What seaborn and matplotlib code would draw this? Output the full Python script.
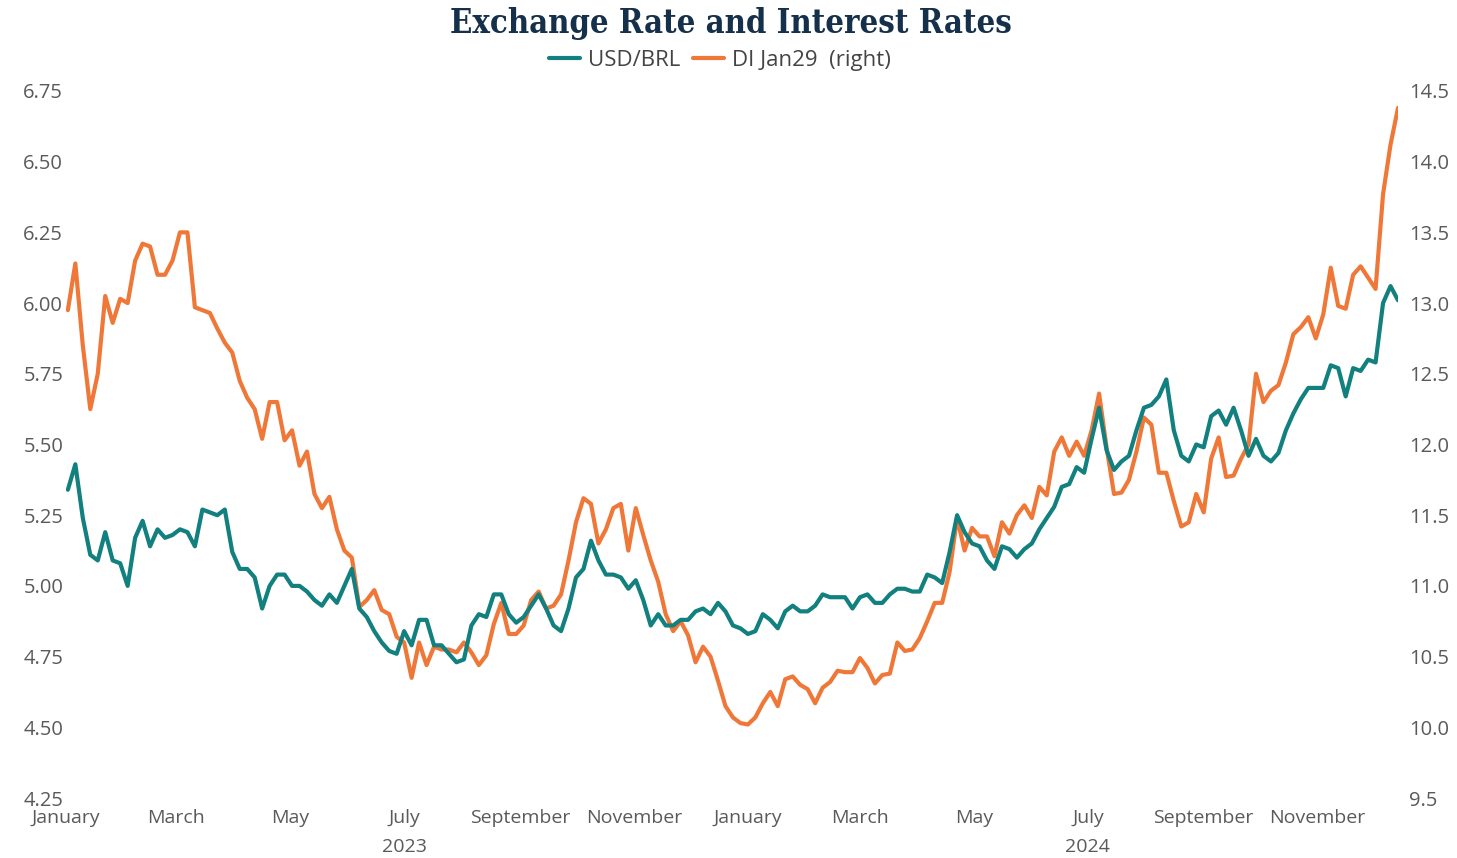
import pandas as pd
import matplotlib
matplotlib.use("Agg")
import matplotlib.pyplot as plt
import matplotlib.dates as mdates
import matplotlib.transforms as mtransforms
import seaborn as sns

# every 4 days, Jan 2023 -> Dec 2024
dates = pd.date_range("2023-01-02", periods=179, freq="4D")

usd_brl = [
    5.34, 5.43, 5.24, 5.11, 5.09, 5.19, 5.09, 5.08, 5.00, 5.17,
    5.23, 5.14, 5.20, 5.17, 5.18, 5.20, 5.19, 5.14, 5.27, 5.26,
    5.25, 5.27, 5.12, 5.06, 5.06, 5.03, 4.92, 5.00, 5.04, 5.04,
    5.00, 5.00, 4.98, 4.95, 4.93, 4.97, 4.94, 5.00, 5.06, 4.92,
    4.89, 4.84, 4.80, 4.77, 4.76, 4.84, 4.79, 4.88, 4.88, 4.79,
    4.79, 4.76, 4.73, 4.74, 4.86, 4.90, 4.89, 4.97, 4.97, 4.90,
    4.87, 4.89, 4.93, 4.97, 4.92, 4.86, 4.84, 4.92, 5.03, 5.06,
    5.16, 5.09, 5.04, 5.04, 5.03, 4.99, 5.02, 4.95, 4.86, 4.90,
    4.86, 4.86, 4.88, 4.88, 4.91, 4.92, 4.90, 4.94, 4.91, 4.86,
    4.85, 4.83, 4.84, 4.90, 4.88, 4.85, 4.91, 4.93, 4.91, 4.91,
    4.93, 4.97, 4.96, 4.96, 4.96, 4.92, 4.96, 4.97, 4.94, 4.94,
    4.97, 4.99, 4.99, 4.98, 4.98, 5.04, 5.03, 5.01, 5.12, 5.25,
    5.19, 5.15, 5.14, 5.09, 5.06, 5.14, 5.13, 5.10, 5.13, 5.15,
    5.20, 5.24, 5.28, 5.35, 5.36, 5.42, 5.40, 5.52, 5.63, 5.48,
    5.41, 5.44, 5.46, 5.55, 5.63, 5.64, 5.67, 5.73, 5.55, 5.46,
    5.44, 5.50, 5.49, 5.60, 5.62, 5.57, 5.63, 5.55, 5.46, 5.52,
    5.46, 5.44, 5.47, 5.55, 5.61, 5.66, 5.70, 5.70, 5.70, 5.78,
    5.77, 5.67, 5.77, 5.76, 5.80, 5.79, 6.00, 6.06, 6.01,
]

di_jan29 = [
    12.95, 13.28, 12.70, 12.25, 12.50, 13.05, 12.86, 13.03, 13.00, 13.30,
    13.42, 13.40, 13.20, 13.20, 13.30, 13.50, 13.50, 12.97, 12.95, 12.93,
    12.82, 12.72, 12.65, 12.45, 12.33, 12.25, 12.04, 12.30, 12.30, 12.03,
    12.10, 11.85, 11.95, 11.65, 11.55, 11.63, 11.40, 11.25, 11.20, 10.85,
    10.90, 10.97, 10.83, 10.80, 10.64, 10.60, 10.35, 10.60, 10.44, 10.57,
    10.55, 10.55, 10.53, 10.60, 10.53, 10.44, 10.51, 10.73, 10.88, 10.66,
    10.66, 10.72, 10.90, 10.96, 10.84, 10.86, 10.94, 11.18, 11.45, 11.62,
    11.58, 11.30, 11.40, 11.55, 11.58, 11.25, 11.55, 11.36, 11.18, 11.03,
    10.80, 10.68, 10.75, 10.65, 10.46, 10.57, 10.50, 10.33, 10.15, 10.07,
    10.03, 10.02, 10.07, 10.17, 10.25, 10.15, 10.34, 10.36, 10.30, 10.27,
    10.17, 10.28, 10.32, 10.40, 10.39, 10.39, 10.49, 10.42, 10.31, 10.37,
    10.38, 10.60, 10.54, 10.55, 10.63, 10.75, 10.88, 10.88, 11.10, 11.48,
    11.25, 11.41, 11.35, 11.35, 11.21, 11.45, 11.37, 11.50, 11.57, 11.48,
    11.70, 11.64, 11.95, 12.05, 11.92, 12.02, 11.92, 12.10, 12.36, 11.98,
    11.65, 11.66, 11.75, 11.95, 12.19, 12.14, 11.80, 11.80, 11.60, 11.42,
    11.45, 11.65, 11.52, 11.90, 12.05, 11.77, 11.78, 11.90, 12.00, 12.50,
    12.30, 12.38, 12.42, 12.58, 12.78, 12.83, 12.90, 12.75, 12.92, 13.25,
    12.98, 12.96, 13.20, 13.26, 13.18, 13.10, 13.77, 14.12, 14.38,
]

left_ticks = [4.25, 4.50, 4.75, 5.00, 5.25, 5.50, 5.75, 6.00, 6.25, 6.50, 6.75]
right_ticks = [9.5, 10.0, 10.5, 11.0, 11.5, 12.0, 12.5, 13.0, 13.5, 14.0, 14.5]
years = ["2023", "2024"]

df = pd.DataFrame({"date": dates, "usd_brl": usd_brl, "di_jan29": di_jan29})

teal = "#12807f"
orange = "#ef7839"
grey = "#5a5a5a"

sns.set_theme(style="white")
plt.rcParams["font.family"] = ["Open Sans", "DejaVu Sans"]

fig = plt.figure(figsize=(14.57, 8.58), dpi=100)
ax = fig.add_axes([0.0453, 0.0699, 0.9142, 0.8241])
ax2 = ax.twinx()

sns.lineplot(data=df, x="date", y="di_jan29", ax=ax2, color=orange, lw=3)
sns.lineplot(data=df, x="date", y="usd_brl", ax=ax, color=teal, lw=3)

# teal on top of orange
ax.set_zorder(ax2.get_zorder() + 1)
ax.patch.set_visible(False)

ax.set_ylim(4.25, 6.75)
ax2.set_ylim(9.5, 14.5)
ax.set_xlim(pd.Timestamp("2023-01-01"), dates[-1])
ax.set_yticks(left_ticks)
ax.set_yticklabels([f"{v:.2f}" for v in left_ticks])
ax2.set_yticks(right_ticks)
ax2.set_yticklabels([f"{v:.1f}" for v in right_ticks])

ax.xaxis.set_major_locator(mdates.MonthLocator(bymonth=[1, 3, 5, 7, 9, 11]))
ax.xaxis.set_major_formatter(mdates.DateFormatter("%B"))

for a in (ax, ax2):
    a.set_xlabel("")
    a.set_ylabel("")
    for s in a.spines.values():
        s.set_visible(False)
    a.grid(False)
ax.tick_params(axis="y", length=0, pad=2, labelsize=14.5, labelcolor=grey)
ax.tick_params(axis="x", length=0, pad=8, labelsize=14, labelcolor=grey)
ax2.tick_params(axis="y", length=0, pad=8, labelsize=14.5, labelcolor=grey)

trans = mtransforms.blended_transform_factory(ax.transData, ax.transAxes)
for y in years:
    ax.text(mdates.date2num(pd.Timestamp(f"{y}-07-01")), -0.069, y,
            transform=trans, ha="center", va="center", fontsize=14, color=grey)

fig.text(0.502, 0.973, "Exchange Rate and Interest Rates", ha="center", va="center",
         fontsize=23.5, fontweight="bold", family="DejaVu Serif", fontstretch="condensed",
         color="#15304a")

leg = fig.legend(handles=[ax.lines[0], ax2.lines[0]], labels=["USD/BRL", "DI Jan29  (right)"],
                 loc="center", bbox_to_anchor=(0.494, 0.930), ncol=2, frameon=False,
                 fontsize=16, handlelength=1.4, handletextpad=0.35, columnspacing=0.6,
                 labelcolor="#444444")

fig.savefig("out.png", dpi=100)
